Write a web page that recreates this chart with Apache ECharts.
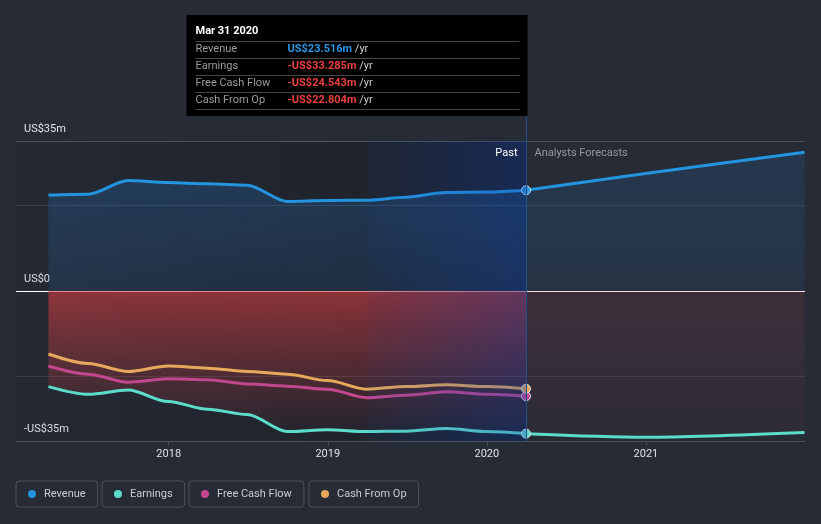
<!DOCTYPE html>
<html><head><meta charset="utf-8">
<script src="https://cdn.jsdelivr.net/npm/echarts@6/dist/echarts.min.js"></script>
<style>html,body{margin:0;padding:0;background:#262b36;}#c{width:821px;height:524px;}</style>
</head><body><div id="c"></div>
<script>
// ---------- data ----------
const pastDates = ['2017-03-31','2017-06-30','2017-09-30','2017-12-31','2018-03-31','2018-06-30','2018-09-30','2018-12-31','2019-03-31','2019-06-30','2019-09-30','2019-12-31','2020-03-31'];
const revenuePast  = [22.4, 22.6, 25.8, 25.3, 25.0, 24.7, 20.9, 21.1, 21.2, 21.9, 23.0, 23.1, 23.516];
const earningsPast = [-22.3, -24.1, -23.1, -25.8, -27.6, -28.8, -32.8, -32.4, -32.8, -32.7, -32.1, -32.8, -33.285];
const fcfPast      = [-17.5, -19.4, -21.3, -20.5, -20.7, -21.7, -22.2, -22.9, -24.9, -24.3, -23.5, -24.1, -24.543];
const cfoPast      = [-14.7, -16.9, -18.8, -17.5, -18.0, -18.8, -19.4, -20.9, -22.9, -22.3, -21.9, -22.3, -22.804];
const forecastDates    = ['2020-03-31','2020-12-31','2021-12-31'];
const revenueForecast  = [23.516, 27.4, 32.4];
const earningsForecast = [-33.285, -34.1, -33.0];
const highlightStart = '2019-03-31';
const seriesNames = ['Revenue','Earnings','Free Cash Flow','Cash From Op'];
const yTickValues = [-35, 0, 35];
const yTickLabels = ['-US$35m','US$0','US$35m'];
const xTickValues = [2018, 2019, 2020, 2021];
const xTickLabels = ['2018','2019','2020','2021'];
const gridValues = [35, 20, -20];
const tooltipTitle = 'Mar 31 2020';
const tooltipLabels = ['Revenue','Earnings','Free Cash Flow','Cash From Op'];
const tooltipValues = ['US$23.516m','-US$33.285m','-US$24.543m','-US$22.804m'];

// ---------- helpers ----------
const F = 'Roboto, "Noto Sans", sans-serif';
function dy(s){const [y,m,d]=s.split('-').map(Number);const a=Date.UTC(y,0,1),b=Date.UTC(y+1,0,1);return y+(Date.UTC(y,m-1,d)-a)/(b-a);}
const pastX = pastDates.map(dy), fcX = forecastDates.map(dy);
const zip = (xs, ys) => xs.map((x,i)=>[x, ys[i]]);
const lastIdx = pastDates.length - 1;
const endSym = (v,p) => p.dataIndex === lastIdx ? 9 : 0;
const X_MIN = 2017.04, X_MAX = 2022.0;
const grad = (x2,y2,stops) => new echarts.graphic.LinearGradient(0,0,x2,y2,stops.map((c,i)=>({offset:i/(stops.length-1),color:c})));
const COL = {rev:'#2394df', earn:'#5cdcca', fcf:'#c2478e', cfo:'#e6a95c'};

function pastLine(name,color,ys,extra){
  return Object.assign({
    name, type:'line', data: zip(pastX, ys), smooth:0.3, smoothMonotone:'x',
    symbol:'circle', symbolSize:endSym, showAllSymbol:true,
    lineStyle:{color, width:3}, itemStyle:{color, borderColor:'#dfe6ee', borderWidth:1},
    emphasis:{disabled:true}, z:2
  }, extra||{});
}

const chart = echarts.init(document.getElementById('c'));
chart.setOption({
  animation:false,
  backgroundColor:'#262b36',
  grid:{left:16, right:16, top:141, bottom:83, containLabel:false},
  xAxis:{type:'value', min:X_MIN, max:X_MAX,
    axisLine:{show:true, onZero:false, lineStyle:{color:'#4b505b', width:1}},
    axisTick:{show:true, customValues:xTickValues, length:4, lineStyle:{color:'#4b505b'}},
    axisLabel:{customValues:xTickValues, formatter:v=>xTickLabels[xTickValues.indexOf(Math.round(v))], color:'#dfe2e7', fontSize:11, fontFamily:F, margin:8},
    splitLine:{show:false}},
  yAxis:{type:'value', min:-35, max:35, interval:35,
    axisLine:{show:false}, axisTick:{show:false}, splitLine:{show:false},
    axisLabel:{inside:true, margin:8, verticalAlign:'bottom', padding:[0,0,5,0], lineHeight:13, showMinLabel:true, showMaxLabel:true,
      formatter:v=>yTickLabels[yTickValues.indexOf(v)], color:'#e2e5ea', fontSize:11, fontFamily:F}},
  legend: seriesNames.map((n,i)=>({
    data:[n], left:[16,102,189,309][i], top:481, icon:'circle', itemWidth:8, itemHeight:8, itemGap:0,
    padding:[6,12,6,12], borderColor:'#4b505b', borderWidth:1, borderRadius:3, selectedMode:false,
    itemStyle:{borderWidth:0},
    textStyle:{color:'#c9cdd3', fontSize:11, fontFamily:F, lineHeight:14, padding:[0,0,0,3]}
  })),
  series:[
    pastLine('Revenue', COL.rev, revenuePast, {
      areaStyle:{origin:'auto', color:grad(0,1,['rgba(35,120,200,0.36)','rgba(35,120,200,0.18)'])},
      markArea:{silent:true, z:1, itemStyle:{color:grad(1,0,['rgba(0,0,0,0.04)','rgba(0,0,0,0.26)'])},
        data:[[{xAxis:X_MIN, yAxis:35},{xAxis:pastX[lastIdx], yAxis:-35}]]},
      markLine:{silent:true, symbol:'none', z:1, label:{show:false}, emphasis:{disabled:true},
        data: gridValues.map((g,i)=>({yAxis:g, lineStyle:{color: i===0?'#4b505b':'#383d48', width:1, type:'solid'}}))
          .concat([{yAxis:0, lineStyle:{color:'#ffffff', width:1, type:'solid'}}])}
    }),
    {name:'Revenue', type:'line', data:zip(fcX, revenueForecast), smooth:0.3, symbol:'none',
      lineStyle:{color:COL.rev, width:3}, itemStyle:{color:COL.rev}, emphasis:{disabled:true}, z:2,
      areaStyle:{origin:'auto', color:grad(0,1,['rgba(35,120,200,0.24)','rgba(35,120,200,0.14)'])}},
    pastLine('Earnings', COL.earn, earningsPast, {
      areaStyle:{origin:'auto', color:grad(0,1,['rgba(212,60,64,0.86)','rgba(200,58,62,0.03)'])}}),
    {name:'Earnings', type:'line', data:zip(fcX, earningsForecast), smooth:0.3, symbol:'none',
      lineStyle:{color:COL.earn, width:3}, itemStyle:{color:COL.earn}, emphasis:{disabled:true}, z:2,
      areaStyle:{origin:'auto', color:grad(0,1,['rgba(170,62,72,0.24)','rgba(170,62,72,0.08)'])}},
    pastLine('Free Cash Flow', COL.fcf, fcfPast),
    pastLine('Cash From Op', COL.cfo, cfoPast, {
      markArea:{silent:true, z:3, itemStyle:{color:grad(1,0,['rgba(20,70,175,0.05)','rgba(15,65,175,0.32)'])},
        data:[[{xAxis:dy(highlightStart), yAxis:35},{xAxis:pastX[lastIdx], yAxis:-35}]]}
    })
  ]
});

// ---------- overlays positioned from the axes ----------
const pTop = chart.convertToPixel({gridIndex:0}, [pastX[lastIdx], 35]);
const pBot = chart.convertToPixel({gridIndex:0}, [pastX[lastIdx], -35]);
const divX = Math.round(pTop[0]) + 0.5;
const boxR = divX + 1, boxL = boxR - 341, boxT = 15, boxH = 101;
const tipEls = [
  {type:'rect', shape:{x:boxL, y:boxT, width:341, height:boxH}, style:{fill:'#000000'}},
  {type:'text', x:boxL+9, y:boxT+16, style:{text:tooltipTitle, fill:'#ffffff', font:'bold 11px '+F, verticalAlign:'middle'}}
];
for (let i=0;i<5;i++){
  const y = Math.round(boxT + 25.5 + i*17) + 0.5;
  tipEls.push({type:'line', shape:{x1:boxL+9, y1:y, x2:boxL+333, y2:y}, style:{stroke:'#474747', lineWidth:1}});
}
tooltipLabels.forEach((l,i)=>{
  const y = boxT + 34 + i*17;
  tipEls.push({type:'text', x:boxL+9, y, style:{text:l, fill:'#9c9c9c', font:'11px '+F, verticalAlign:'middle'}});
  tipEls.push({type:'text', x:boxL+101, y, style:{text:'{v|'+tooltipValues[i]+'} {u|/yr}', verticalAlign:'middle', font:'11px '+F,
    rich:{v:{fill: i===0?'#2a95df':'#e8403f', fontSize:11, fontFamily:F, fontWeight:'bold'}, u:{fill:'#cfcfcf', fontSize:11, fontFamily:F}}}});
});
chart.setOption({graphic:[
  {type:'line', z:50, shape:{x1:divX, y1:boxT+boxH, x2:divX, y2:pBot[1]}, style:{stroke:'#23508c', lineWidth:1}},
  {type:'text', z:50, x:divX-9, y:pTop[1]+12, style:{text:'Past', fill:'#ffffff', font:'11px '+F, align:'right', verticalAlign:'middle'}},
  {type:'text', z:50, x:divX+8, y:pTop[1]+12, style:{text:'Analysts Forecasts', fill:'#9399a3', font:'11px '+F, align:'left', verticalAlign:'middle'}},
  {type:'group', z:100, children:tipEls}
]});
</script></body></html>
